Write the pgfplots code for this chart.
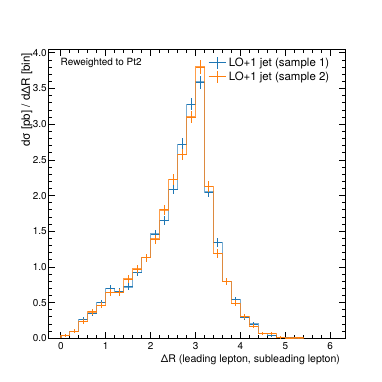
\documentclass[border=0pt]{standalone}
\usepackage{fontspec}
\setmainfont{TeX Gyre Heros}
\usepackage{pgfplots}
\pgfplotsset{compat=1.18}
\usepackage{pgfplotstable}

\definecolor{cblue}{HTML}{1F77B4}
\definecolor{corange}{HTML}{FF7F0E}

% bin left edge, value, error; first and last rows close the step outline
\pgfplotstableread{
edge val err
0.0 0     0
0.0 0.040 0.023
0.2 0.100 0.028
0.4 0.260 0.035
0.6 0.350 0.039
0.8 0.500 0.043
1.0 0.700 0.048
1.2 0.660 0.047
1.4 0.720 0.049
1.6 0.920 0.053
1.8 1.130 0.058
2.0 1.460 0.063
2.2 1.650 0.066
2.4 2.090 0.073
2.6 2.720 0.081
2.8 3.280 0.087
3.0 3.590 0.091
3.2 2.050 0.072
3.4 1.340 0.061
3.6 0.800 0.051
3.8 0.540 0.044
4.0 0.290 0.037
4.2 0.200 0.033
4.4 0.065 0.025
4.6 0.040 0.023
4.8 0.015 0.020
5.0 0.005 0.018
5.2 0.000 0.000
5.4 0     0
}\sampleone

\pgfplotstableread{
edge val err
0.0 0     0
0.0 0.040 0.023
0.2 0.100 0.028
0.4 0.240 0.034
0.6 0.370 0.039
0.8 0.460 0.042
1.0 0.640 0.047
1.2 0.640 0.047
1.4 0.830 0.051
1.6 0.970 0.054
1.8 1.130 0.058
2.0 1.390 0.062
2.2 1.800 0.069
2.4 2.230 0.075
2.6 2.580 0.079
2.8 3.100 0.085
3.0 3.800 0.093
3.2 2.130 0.073
3.4 1.190 0.059
3.6 0.800 0.051
3.8 0.490 0.043
4.0 0.310 0.037
4.2 0.170 0.032
4.4 0.065 0.025
4.6 0.065 0.025
4.8 0.015 0.020
5.0 0.003 0.017
5.2 0.005 0.018
5.4 0     0
}\sampletwo

\begin{document}
\begin{tikzpicture}
\begin{axis}[
  at={(0,0)}, anchor=south west,
  scale only axis, width=296.7bp, height=289bp,
  xmin=-0.28, xmax=6.33, ymin=0, ymax=4.05,
  xtick={0,1,2,3,4,5,6},
  ytick={0,0.5,1,1.5,2,2.5,3,3.5,4},
  minor x tick num=4, minor y tick num=4,
  tick align=inside,
  major tick length=6.5bp, minor tick length=3.5bp,
  every tick/.style={black, line width=0.8bp},
  axis line style={line width=0.9bp},
  /pgf/number format/assume math mode=true,
  tick label style={font=\fontsize{10}{12}\selectfont},
  yticklabel style={inner sep=1.5bp, /pgf/number format/.cd, fixed, fixed zerofill, precision=1},
  xticklabel style={inner sep=1bp, yshift=-3bp},
  xlabel={ΔR (leading lepton, subleading lepton)},
  xlabel style={at={(rel axis cs:1,0)}, anchor=base east, yshift=-23.7bp, xshift=-1.5bp,
    font=\fontsize{10.6}{12}\selectfont},
  ylabel={dσ [pb] / dΔR [bin]},
  ylabel style={at={(axis description cs:-0.062,1)}, anchor=base east,
    font=\fontsize{11.6}{14}\selectfont},
  legend cell align=left,
  legend style={draw=none, fill=none, at={(axis description cs:0.528,0.985)}, anchor=north west,
    font=\fontsize{11.5}{13.8}\selectfont, row sep=0bp,
    /tikz/every even column/.append style={column sep=2bp}},
]
\addplot[const plot, cblue, line width=1.3bp, opacity=0.6, forget plot]
  table[x=edge, y=val] {\sampleone};
\addplot[draw=none, mark=none,
  skip coords between index={0}{1}, skip coords between index={28}{29},
  error bars/.cd, x dir=both, x fixed=0.1, y dir=both, y explicit,
  error mark=none, error bar style={draw=cblue, line width=1bp, solid},
  /pgfplots/legend image code/.code={
    \draw[cblue, line width=1bp] (0bp,0bp) -- (17.7bp,0bp);
    \draw[cblue, line width=1bp] (8.85bp,-6bp) -- (8.85bp,6bp);}]
  table[x expr=\thisrow{edge}+0.1, y=val, y error=err] {\sampleone};
\addlegendentry{LO+1 jet (sample 1)}

\addplot[const plot, corange, line width=1.3bp, opacity=0.75, forget plot]
  table[x=edge, y=val] {\sampletwo};
\addplot[draw=none, mark=none,
  skip coords between index={0}{1}, skip coords between index={28}{29},
  error bars/.cd, x dir=both, x fixed=0.1, y dir=both, y explicit,
  error mark=none, error bar style={draw=corange, line width=1bp, solid},
  /pgfplots/legend image code/.code={
    \draw[corange, line width=1bp] (0bp,0bp) -- (17.7bp,0bp);
    \draw[corange, line width=1bp] (8.85bp,-6bp) -- (8.85bp,6bp);}]
  table[x expr=\thisrow{edge}+0.1, y=val, y error=err] {\sampletwo};
\addlegendentry{LO+1 jet (sample 2)}

\node[anchor=base west, font=\fontsize{10}{12}\selectfont]
  at (axis description cs:0.030,0.943) {Reweighted to Pt2};
\node[anchor=base west, font=\fontsize{11.2}{13}\selectfont, xshift=5bp, yshift=7bp]
  at (rel axis cs:0,1) {pp $\rightarrow$ t$\bar{\mbox{t}}$ $\rightarrow$ l\textsuperscript{+}ν\textsubscript{l}b\ \ l\textsuperscript{$-$}$\bar{\mbox{ν}}$\textsubscript{l}$\bar{\mbox{b}}$};
\node[anchor=base east, font=\fontsize{11.2}{13}\selectfont, xshift=-3bp, yshift=7bp]
  at (rel axis cs:1,1) {(13 TeV)};
\end{axis}
\path (-48.3bp,-43.7bp) rectangle (333.7bp,338.3bp);
\end{tikzpicture}
\end{document}
